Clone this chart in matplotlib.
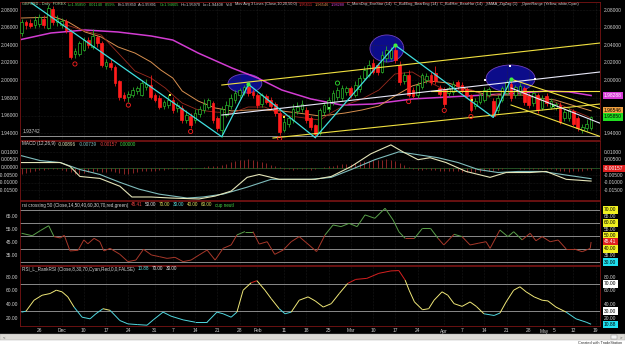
import matplotlib.pyplot as plt
from matplotlib.patches import Ellipse, Rectangle
from matplotlib.collections import LineCollection
from matplotlib.transforms import blended_transform_factory

W, H = 625, 345

# ---- x axis: one slot per trading day ----
date_pos = [4, 9, 14, 19, 24, 30, 34, 39, 44, 49, 53, 59, 64, 69, 74, 79, 84, 89,
            95, 99, 104, 109, 114, 117.4, 119.7, 124, 129]
date_lbl = ['26', 'Dec', '10', '17', '24', '31', '7', '14', '21', '28', 'Feb', '11', '18', '25',
            'Mar', '10', '17', '24', 'Apr', '7', '14', '21', '28', 'May', '5', '12', '19']

# ---- GBPUSD daily candles ----
opens = [2.054, 2.066, 2.065, 2.063, 2.064, 2.070, 2.060, 2.081, 2.066, 2.063,
         2.067, 2.055, 2.030, 2.030, 2.035, 2.046, 2.038, 2.049, 2.042, 2.016,
         2.020, 2.015, 1.999, 1.984, 1.981, 1.984, 1.988, 1.984, 1.992, 1.995,
         1.983, 1.980, 1.971, 1.972, 1.978, 1.969, 1.969, 1.955, 1.960, 1.955,
         1.962, 1.966, 1.970, 1.974, 1.957, 1.944, 1.961, 1.971, 1.978, 1.983,
         1.987, 1.993, 1.987, 1.984, 1.973, 1.982, 1.978, 1.973, 1.963, 1.944,
         1.950, 1.955, 1.965, 1.967, 1.966, 1.957, 1.949, 1.940, 1.964, 1.967,
         1.975, 1.981, 1.980, 1.987, 1.991, 1.984, 1.990, 2.003, 2.006, 2.020,
         2.017, 2.010, 2.025, 2.026, 2.035, 2.018, 1.999, 2.006, 1.989, 1.983,
         1.993, 2.000, 2.006, 2.008, 1.991, 1.990, 1.986, 1.987, 1.998, 1.995,
         1.990, 1.983, 1.971, 1.976, 1.978, 1.984, 1.977, 1.966, 1.978, 1.986,
         1.996, 1.983, 1.987, 1.991, 1.982, 1.974, 1.983, 1.969, 1.982, 1.970,
         1.969, 1.972, 1.957, 1.957, 1.965, 1.957, 1.944, 1.946, 1.94605]
highs = [2.070, 2.069, 2.070, 2.073, 2.076, 2.074, 2.086, 2.085, 2.074, 2.071,
         2.070, 2.058, 2.037, 2.045, 2.049, 2.049, 2.058, 2.052, 2.045, 2.024,
         2.024, 2.018, 2.001, 1.987, 1.988, 1.992, 1.994, 2.000, 2.002, 2.006,
         1.986, 1.983, 1.978, 1.984, 1.981, 1.975, 1.972, 1.966, 1.963, 1.968,
         1.971, 1.979, 1.980, 1.977, 1.960, 1.971, 1.977, 1.985, 1.989, 1.991,
         1.995, 1.9955, 1.990, 1.986, 1.986, 1.985, 1.981, 1.975, 1.965, 1.957,
         1.961, 1.973, 1.975, 1.978, 1.970, 1.960, 1.951, 1.969, 1.976, 1.981,
         1.989, 1.992, 1.995, 1.994, 1.994, 1.999, 2.006, 2.016, 2.023, 2.024,
         2.020, 2.033, 2.039, 2.038, 2.040, 2.022, 2.010, 2.012, 1.992, 1.998,
         2.009, 2.008, 2.010, 2.016, 1.995, 1.993, 1.994, 1.999, 2.001, 1.998,
         1.992, 1.985, 1.980, 1.986, 1.992, 1.993, 1.980, 1.983, 1.994, 2.000,
         2.0015, 1.995, 1.997, 1.994, 1.986, 1.989, 1.986, 1.983, 1.986, 1.980,
         1.976, 1.976, 1.967, 1.969, 1.968, 1.960, 1.950, 1.956, 1.95970]
lows = [2.050, 2.058, 2.059, 2.060, 2.061, 2.060, 2.058, 2.063, 2.062, 2.060,
        2.054, 2.024, 2.026, 2.028, 2.033, 2.037, 2.036, 2.038, 2.015, 2.013,
        2.012, 1.994, 1.978, 1.977, 1.976, 1.981, 1.985, 1.982, 1.989, 1.979,
        1.975, 1.968, 1.967, 1.969, 1.963, 1.964, 1.952, 1.952, 1.946, 1.952,
        1.959, 1.963, 1.967, 1.952, 1.942, 1.936, 1.958, 1.968, 1.974, 1.980,
        1.984, 1.982, 1.980, 1.969, 1.970, 1.973, 1.968, 1.960, 1.938, 1.941,
        1.947, 1.952, 1.962, 1.964, 1.952, 1.944, 1.935, 1.938, 1.961, 1.964,
        1.972, 1.978, 1.977, 1.984, 1.980, 1.981, 1.987, 2.000, 2.004, 2.007,
        2.006, 2.008, 2.021, 2.023, 2.020, 1.995, 1.996, 1.981, 1.980, 1.980,
        1.990, 1.997, 1.995, 1.996, 1.982, 1.970, 1.982, 1.984, 1.990, 1.986,
        1.980, 1.964, 1.968, 1.973, 1.975, 1.981, 1.958, 1.963, 1.975, 1.983,
        1.977, 1.980, 1.984, 1.972, 1.969, 1.971, 1.963, 1.966, 1.971, 1.967,
        1.966, 1.950, 1.954, 1.954, 1.948, 1.943, 1.940, 1.943, 1.94408]
closes = [2.066, 2.063, 2.062, 2.069, 2.072, 2.063, 2.082, 2.066, 2.070, 2.068,
          2.057, 2.027, 2.033, 2.042, 2.046, 2.040, 2.050, 2.042, 2.018, 2.021,
          2.015, 1.997, 1.981, 1.980, 1.985, 1.989, 1.991, 1.997, 1.996, 1.981,
          1.978, 1.970, 1.975, 1.978, 1.966, 1.972, 1.955, 1.961, 1.949, 1.963,
          1.968, 1.973, 1.978, 1.955, 1.946, 1.967, 1.972, 1.980, 1.986, 1.989,
          1.993, 1.986, 1.983, 1.972, 1.983, 1.976, 1.971, 1.963, 1.941, 1.953,
          1.957, 1.968, 1.970, 1.973, 1.955, 1.947, 1.939, 1.966, 1.972, 1.978,
          1.986, 1.989, 1.991, 1.991, 1.983, 1.995, 2.003, 2.012, 2.018, 2.010,
          2.010, 2.029, 2.035, 2.035, 2.023, 1.998, 2.006, 1.984, 1.982, 1.995,
          2.006, 2.005, 1.998, 1.999, 1.985, 1.973, 1.991, 1.996, 1.994, 1.989,
          1.983, 1.966, 1.977, 1.983, 1.989, 1.990, 1.960, 1.980, 1.991, 1.998,
          1.980, 1.992, 1.994, 1.975, 1.972, 1.986, 1.966, 1.980, 1.974, 1.977,
          1.973, 1.953, 1.964, 1.966, 1.951, 1.946, 1.947, 1.951, 1.95850]

# moving averages (10 / 20 / 50), read at sample bars
ma10_x = [9.5, 14.3, 17.9, 21.7, 25.5, 29.1, 32.3, 34, 36.1, 39.7, 43.5, 47.3, 50.9, 54.7,
          58.5, 62.1, 67.1, 69.1, 72.7, 76.5, 80.3, 83.9, 87.8, 91.6, 95.2, 101.2, 104.8,
          108.7, 112.5, 116.1, 119.9, 123.7, 127.3, 128]
ma10_y = [2.0640, 2.0561, 2.0516, 2.0312, 2.0107, 2.0027, 1.9914, 1.9834, 1.9743, 1.9664,
          1.9641, 1.9630, 1.9698, 1.9698, 1.9607, 1.9584, 1.9550, 1.9618, 1.9721, 1.9789,
          1.9891, 2.0073, 2.0096, 1.9982, 1.9891, 1.9891, 1.9812, 1.9869, 1.9857, 1.9778,
          1.9755, 1.9664, 1.9590, 1.95611]
ma20_x = [0, 7.5, 10.5, 14.3, 17.9, 21.7, 25.5, 29.1, 31.3, 34, 36.1, 39.7, 43.5, 47.3,
          50.9, 54.7, 58.5, 62.1, 67.1, 69.1, 72.7, 76.5, 80.3, 83.9, 87.8, 91.6, 96, 100,
          104.8, 108.7, 112.5, 116.1, 119.9, 123.7, 128]
ma20_y = [2.0709, 2.0720, 2.0664, 2.0550, 2.0493, 2.0380, 2.0311, 2.0209, 2.0118, 2.0027,
          1.9880, 1.9766, 1.9687, 1.9653, 1.9664, 1.9664, 1.9653, 1.9630, 1.9596, 1.9607,
          1.9630, 1.9664, 1.9709, 1.9823, 1.9937, 1.9994, 1.9970, 1.9900, 1.9834, 1.9834,
          1.9834, 1.9800, 1.9778, 1.9720, 1.96546]
ma50_x = [0, 6.6, 14.3, 21.7, 29.1, 34, 39.7, 47.3, 53.1, 58.5, 65, 72, 79, 88, 96, 104,
          112, 118, 123, 128]
ma50_y = [2.0466, 2.0539, 2.0573, 2.0550, 2.0505, 2.0459, 2.0311, 2.0141, 2.0027, 1.9891,
          1.9790, 1.9720, 1.9732, 1.9790, 1.9812, 1.9834, 1.9857, 1.9880, 1.9870, 1.98288]

# zigzag swing points
zz_x = [2.2, 45, 51, 66, 84, 106, 110]
zz_y = [2.088, 1.936, 1.9955, 1.935, 2.040, 1.958, 2.0015]

# trend channel lines (start bar, start price, end bar, end price)
chan_yellow = [(45, 1.9948, 130, 2.0425), (56.5, 1.9346, 130, 1.9732), (92, 1.9885, 130, 1.9885),
               (110, 2.0015, 131, 1.9664), (110, 1.9721, 131, 1.9346)]
chan_white = [(45, 1.9607, 130, 2.0096), (110, 1.9914, 131, 1.9494)]

# highlighted swing areas (bar, price, width in bars, height in price)
ellipses = [(50.2, 1.9965, 7.6, 0.0216), (82.1, 2.0363, 7.6, 0.0307), (109.9, 2.0022, 11, 0.0307)]

# pattern markers
bull_x = [12, 24, 38, 58, 87, 95, 101]
bull_y = [2.0187, 1.972, 1.942, 1.934, 1.976, 1.966, 1.959]
bear_x = [71]
bear_y = [1.997]
dot_x = [33.4, 59, 101.3]
dot_y = [1.9835, 1.959, 1.978]
sq_x = [69, 119.4]
sq_y = [1.969, 1.971]
handle_x = [104.2, 109.8, 115.4]
handle_y = [2.0005, 2.0164, 2.0016]
last_low_ref = 1.93742

# MACD (12,26,9), read at sample bars
macd_x = [0, 4.2, 8.7, 10.9, 13.1, 17.6, 22.1, 24.8, 29.1, 33.6, 39.9, 43.5, 47.1, 50.7,
          53.4, 57.9, 62.4, 66, 69.6, 74.1, 78.5, 83, 85.7, 89.1, 91.8, 95.4, 99.9, 105.3,
          108.9, 114.3, 117.9, 122.4, 128]
macd_y = [0.0033, 0.0033, 0.0033, 0.0007, -0.0059, -0.0072, -0.0124, -0.0195, -0.0195,
          -0.0202, -0.0208, -0.0189, -0.0156, -0.0065, -0.0046, -0.0078, -0.0078, -0.0078,
          -0.0059, 0.0007, 0.0091, 0.0150, 0.0104, 0.0052, 0.0065, 0.0033, -0.0026, -0.0065,
          -0.0033, -0.0033, -0.0026, -0.0078, -0.00896]
sig_x = [0, 4.2, 8.7, 13.1, 17.6, 22.1, 26.4, 30.9, 37.2, 40.8, 45.3, 50.7, 56.1, 60.6,
         65.1, 69.6, 74.1, 79.4, 84.8, 89.1, 93.6, 98.1, 102.6, 107.1, 111.6, 117, 121.5, 128]
sig_y = [0.0078, 0.0046, 0.0033, -0.0013, -0.0046, -0.0098, -0.0143, -0.0176, -0.0202,
         -0.0195, -0.0176, -0.0130, -0.0078, -0.0078, -0.0078, -0.0065, -0.0013, 0.0052,
         0.0104, 0.0085, 0.0065, 0.0033, -0.0013, -0.0033, -0.0026, -0.0026, -0.0046, -0.00739]
macd_hist = [-0.0040, -0.0035, -0.0030, -0.0025, -0.0018, -0.0015, -0.0008, -0.0010, -0.0012, -0.0015,
             -0.0020, -0.0030, -0.0040, -0.0042, -0.0035, -0.0030, -0.0028, -0.0025, -0.0030, -0.0028,
             -0.0025, -0.0030, -0.0038, -0.0042, -0.0040, -0.0035, -0.0030, -0.0025, -0.0022, -0.0020,
             -0.0020, -0.0018, -0.0015, -0.0012, -0.0012, -0.0010, -0.0012, -0.0010, -0.0008, -0.0006,
             -0.0004, 0.0002, 0.0008, 0.0010, 0.0008, 0.0015, 0.0025, 0.0035, 0.0042, 0.0048,
             0.0052, 0.0055, 0.0050, 0.0045, 0.0038, 0.0030, 0.0020, 0.0010, 0.0002, -0.0008,
             -0.0012, -0.0015, -0.0012, -0.0010, -0.0012, -0.0015, -0.0012, -0.0005, 0.0002, 0.0008,
             0.0012, 0.0018, 0.0022, 0.0025, 0.0025, 0.0030, 0.0035, 0.0040, 0.0045, 0.0048,
             0.0050, 0.0052, 0.0055, 0.0052, 0.0045, 0.0030, 0.0015, 0.0002, -0.0010, -0.0018,
             -0.0015, -0.0012, -0.0015, -0.0018, -0.0022, -0.0025, -0.0022, -0.0020, -0.0022, -0.0028,
             -0.0030, -0.0032, -0.0030, -0.0028, -0.0025, -0.0022, -0.0025, -0.0018, -0.0012, -0.0005,
             -0.0002, -0.0004, -0.0008, -0.0010, -0.0012, -0.0010, -0.0012, -0.0010, -0.0008, -0.0010,
             -0.0015, -0.0020, -0.0025, -0.0028, -0.0025, -0.0022, -0.0020, -0.0018, -0.00157]

# rsi crossing 50
rsi_x = [0, 2.4, 4.2, 6.1, 7.3, 8.7, 9.6, 10.9, 12.7, 14, 14.9, 16.3, 17.6, 18.5, 19.9, 22.1,
         23.9, 25.7, 27.4, 29.2, 31, 32.7, 34.5, 36.3, 38.1, 39.9, 41.7, 43.5, 45.3, 47.1,
         48.4, 50.2, 52, 53.4, 55.2, 56.9, 58.8, 60.6, 62.4, 64.6, 66.3, 68.2, 70, 71.8, 73.6,
         75.4, 77.2, 79.4, 81.7, 83.5, 84.8, 86.2, 88.3, 90.1, 91.9, 93.6, 94.9, 97.2, 99,
         100.8, 102.6, 104.4, 105.3, 107.5, 109.3, 110.6, 112.5, 114.3, 115.6, 117, 118.8,
         120.6, 122.4, 124.2, 126, 127.8, 128]
rsi_y = [52.1, 50.2, 54.1, 57.9, 49.5, 48.5, 50.5, 38.5, 39.0, 47.0, 44.0, 48.2, 45.6, 38.5,
         40.5, 35.9, 30.3, 31.5, 39.8, 35.4, 34.1, 32.8, 33.6, 30.3, 31.5, 35.4, 39.2, 31.5,
         40.5, 43.1, 50.8, 53.4, 53.4, 43.8, 45.6, 35.9, 39.2, 45.6, 49.5, 43.1, 38.0, 50.8,
         58.5, 57.2, 59.7, 57.2, 66.2, 63.6, 71.3, 62.3, 53.3, 48.2, 48.2, 55.9, 55.9, 48.2,
         43.1, 51.3, 49.5, 43.1, 44.4, 45.6, 40.5, 54.6, 49.5, 53.3, 47.0, 52.1, 46.3, 49.5,
         45.6, 46.9, 40.0, 40.0, 37.9, 40.5, 45.41]

# RSI_L_RankRSI
rank_x = [0, 1, 2.8, 4.6, 6.4, 7.8, 9.1, 10.4, 11.8, 13.6, 15.4, 16.7, 18.3, 19.9, 22.1,
          23.9, 26, 28.2, 29.6, 31.8, 33.6, 36.3, 39, 41.7, 43.9, 45.3, 47.1, 48.4, 49.8,
          51.6, 52.9, 54.7, 56.1, 57.9, 59.2, 60.6, 62.4, 64.4, 66, 67.8, 69.6, 71.4, 73.3,
          75.1, 77.6, 80.3, 83, 84.8, 86.2, 87.1, 88.3, 90.1, 91.5, 92.7, 94.5, 95.8, 97.2,
          99, 100.8, 102.2, 103.9, 106.2, 107.5, 108.9, 110.6, 112, 113.4, 115.2, 117,
          118.3, 120.1, 122.4, 124.6, 126.9, 128]
rank_y = [28.6, 30.0, 46.0, 53.3, 55.8, 60.7, 58.3, 50.9, 36.0, 21.2, 18.8, 26.2, 33.6, 31.2,
          16.3, 11.4, 10.4, 9.5, 17.3, 28.6, 22.7, 17.3, 13.9, 13.9, 28.6, 26.2, 21.2, 28.6,
          60.7, 71.6, 74.6, 60.7, 48.4, 33.6, 26.2, 28.6, 46.0, 50.9, 45.0, 36.0, 41.0, 55.8,
          70.6, 76.5, 78.0, 85.4, 88.9, 89.4, 75.5, 60.7, 43.5, 32.1, 33.6, 46.0, 58.3, 53.3,
          41.0, 37.0, 43.5, 37.0, 26.2, 23.7, 27.2, 43.5, 60.7, 65.7, 58.3, 50.9, 46.0, 45.0,
          36.0, 28.6, 18.8, 13.9, 10.88]

# ---------------- drawing ----------------
plt.rcParams['font.family'] = ['Liberation Sans', 'DejaVu Sans']
BG = '#000000'
TXT = '#cfcfcf'
GRID = '#2c2c2c'
BORDER = '#7a1414'
FS = 3.5

fig = plt.figure(figsize=(W / 100, H / 100), dpi=100, facecolor=BG)


def px_axes(top, bottom):
    return fig.add_axes([20 / W, 1 - bottom / H, 580 / W, (bottom - top) / H], facecolor=BG)


ax_p = px_axes(2, 139.5)
ax_m = px_axes(140.5, 200)
ax_r = px_axes(201, 265)
ax_k = px_axes(266, 326)
axes = [ax_p, ax_m, ax_r, ax_k]

for ax in axes:
    ax.set_xlim(-0.35, 130)
    for s in ax.spines.values():
        s.set_color(BORDER)
        s.set_linewidth(0.6)
    ax.tick_params(length=0, labelsize=FS, colors=TXT, pad=1)
    ax.set_yticks([])
    ax.set_xticks(date_pos)
    ax.set_xticklabels([])
    ax.grid(axis='x', color=GRID, lw=0.4, ls=':')

ax_k.set_xticklabels(date_lbl)
ax_k.tick_params(axis='x', pad=1.8)


def side_labels(ax, left_vals, right_vals, fmt, badges=()):
    tr = blended_transform_factory(ax.transAxes, ax.transData)
    for v in left_vals:
        ax.text(-0.003, v, fmt.format(v), transform=tr, ha='right', va='center', fontsize=FS, color=TXT)
    for v in right_vals:
        ax.text(1.007, v, fmt.format(v), transform=tr, ha='left', va='center', fontsize=FS, color=TXT)
    for v, txt, bg, fg in badges:
        ax.text(1.007, v, txt, transform=tr, ha='left', va='center', fontsize=FS, color=fg,
                bbox=dict(boxstyle='square,pad=0.25', fc=bg, ec='none'))


# ---- price panel ----
ax_p.set_ylim(1.9329, 2.0891)
price_lvls = [2.08, 2.06, 2.04, 2.02, 2.00, 1.98, 1.96, 1.94]
for v in price_lvls:
    ax_p.axhline(v, color=GRID, lw=0.4, ls=':')

for (cx, cy, w, h) in ellipses:
    ax_p.add_patch(Ellipse((cx, cy), w, h, facecolor='#0c0c8a', edgecolor='#7040c0', lw=0.6, zorder=1))

ax_p.axhline(last_low_ref, color='#a8a8a8', lw=0.6, zorder=2)
tr_p = blended_transform_factory(ax_p.transAxes, ax_p.transData)
ax_p.text(0.004, last_low_ref + 0.0012, '1.93742', transform=tr_p, fontsize=FS, color=TXT,
          va='bottom', ha='left')

ax_p.plot(ma50_x, ma50_y, color='#d23cd2', lw=1.1, zorder=2)
ax_p.plot(ma20_x, ma20_y, color='#d89050', lw=0.7, zorder=2)
ax_p.plot(ma10_x, ma10_y, color='#9a2a1e', lw=0.6, zorder=2)

for i, (o, h, l, c) in enumerate(zip(opens, highs, lows, closes)):
    up = c >= o
    col = '#2cb82c' if up else '#ff1c1c'
    ax_p.vlines(i, l, h, color=col, lw=0.55, zorder=3)
    ax_p.add_patch(Rectangle((i - 0.3, min(o, c)), 0.6, max(abs(c - o), 0.0005),
                             facecolor=BG if up else col, edgecolor=col, lw=0.5, zorder=4))

for (x0, y0, x1, y1) in chan_yellow:
    ax_p.plot([x0, x1], [y0, y1], color='#f0e040', lw=0.8, zorder=5)
for (x0, y0, x1, y1) in chan_white:
    ax_p.plot([x0, x1], [y0, y1], color='#e8e8f8', lw=0.8, zorder=5)

ax_p.plot(zz_x, zz_y, color='#40e0e0', lw=0.9, zorder=6)
ax_p.scatter(zz_x[2::2], zz_y[2::2], s=9, color='#40f040', zorder=7, linewidths=0)
ax_p.scatter(bull_x, bull_y, s=9, facecolors='none', edgecolors='#ff2020', linewidths=0.6, zorder=7)
ax_p.scatter(bear_x, bear_y, s=9, facecolors='none', edgecolors='#30e030', linewidths=0.6, zorder=7)
ax_p.scatter(dot_x, dot_y, s=2.5, marker='s', color='#f0f040', zorder=7, linewidths=0)
ax_p.scatter(sq_x, sq_y, s=3, marker='s', color='#60f060', zorder=7, linewidths=0)
ax_p.scatter(handle_x, handle_y, s=3, marker='s', color='#ffffff', zorder=7, linewidths=0)

side_labels(ax_p, price_lvls, [2.08, 2.06, 2.04, 2.02, 2.00, 1.94], '{:.5f}',
            badges=[(1.98288, '1.98288', '#d83cd8', '#ffffff'),
                    (1.96546, '1.96546', '#f0a040', '#000000'),
                    (1.95850, '1.95850', '#20e020', '#000000')])

# ---- MACD panel ----
ax_m.set_ylim(-0.0215, 0.0179)
macd_lvls = [0.01, 0.005, 0.0, -0.005, -0.01, -0.015]
for v in macd_lvls:
    ax_m.axhline(v, color=GRID, lw=0.4, ls=':')
ax_m.axhline(0, color='#2e6b2e', lw=0.5)
ax_m.vlines(range(len(macd_hist)), 0, macd_hist, color='#a02a2a', lw=0.6)
ax_m.plot(sig_x, sig_y, color='#7fbcbc', lw=0.8)
ax_m.plot(macd_x, macd_y, color='#e4e4b8', lw=0.8)
side_labels(ax_m, macd_lvls, [0.01, 0.005, -0.005, -0.01, -0.015], '{:.5f}',
            badges=[(-0.0008, '-0.00157', '#e02020', '#ffffff')])

# ---- rsi crossing 50 panel ----
ax_r.set_ylim(27.7, 76.9)
for v in [70, 60, 50, 40, 30]:
    ax_r.axhline(v, color='#a0a0a0', lw=0.6)


def colored_line(ax, xs, ys, color_of):
    segs, cols = [], []
    for k in range(len(xs) - 1):
        segs.append([(xs[k], ys[k]), (xs[k + 1], ys[k + 1])])
        cols.append(color_of((ys[k] + ys[k + 1]) / 2))
    ax.add_collection(LineCollection(segs, colors=cols, linewidths=0.7, zorder=3))


colored_line(ax_r, rsi_x, rsi_y, lambda v: '#5aa04a' if v >= 50 else '#a8382a')
side_labels(ax_r, [65, 55, 45, 35], [65, 55, 35], '{:.2f}',
            badges=[(70, '70.00', '#f0f020', '#000000'), (60, '60.00', '#f0f020', '#000000'),
                    (50, '50.00', '#f0f020', '#000000'), (45.41, '45.41', '#e02020', '#ffffff'),
                    (40, '40.00', '#f0f020', '#000000'), (30, '30.00', '#20e0f0', '#000000')])

# ---- RankRSI panel ----
ax_k.set_ylim(8.3, 96.1)
for v in [70, 30]:
    ax_k.axhline(v, color='#a0a0a0', lw=0.6)
colored_line(ax_k, rank_x, rank_y,
             lambda v: '#d82020' if v > 70 else ('#50d8e0' if v < 30 else '#f0e878'))
side_labels(ax_k, [80, 60, 40, 20], [80, 60, 40, 20], '{:.2f}',
            badges=[(70, '70.00', '#ffffff', '#000000'), (30, '30.00', '#ffffff', '#000000'),
                    (10.88, '10.88', '#20e0f0', '#000000')])

# ---- panel titles ----
renderer = fig.canvas.get_renderer()


def seg_text(x_px, y_px, parts, size=3.3, gap=2.6):
    x = x_px
    for s, col in parts:
        t = fig.text(x / W, 1 - y_px / H, s, color=col, fontsize=size, ha='left', va='center')
        x += t.get_window_extent(renderer).width + gap


WH = '#d4d4d4'
GR = '#44d044'
seg_text(22, 4.5, [('GBPUSD - Daily  FOREX', '#a0d8a0'), ('L=1.95850', GR), ('0.01140', GR),
                   ('0.59%', GR), ('B=1.95850', WH), ('A=1.95891', WH), ('O=1.94605', GR),
                   ('Hi=1.95970', WH), ('Lo=1.94408', WH), ('V=0', WH),
                   ('Mov Avg 3 Lines (Close,10,20,50,0)', WH), ('1.95611', '#e03030'),
                   ('1.96546', '#e09050'), ('1.98288', '#d040d0'), ('C_MornDoji_EveStar (14)', WH),
                   ('C_BullEng_BearEng (14)', WH), ('C_BullHar_BearHar (14)', WH),
                   ('_SMAA_ZigZag (1)', WH), ('_OpenRange (Yellow, white,Cyan)', WH)],
         size=2.8, gap=2.0)
seg_text(22, 144, [('MACD (12,26,9)', WH), ('-0.00896', '#e4e4b8'), ('-0.00739', '#7fbcbc'),
                   ('-0.00157', '#e04040'), ('0.00000', GR)])
seg_text(22, 205, [('rsi crossing 50 (Close,14,50,40,60,30,70,red,green)', WH), ('45.41', '#e04040'),
                   ('50.00', '#e0e0e0'), ('70.00', '#e0e060'), ('30.00', '#60e0e0'),
                   ('40.00', '#e0e060'), ('60.00', '#e0e060'), ('cup neutl', GR)])
seg_text(22, 269, [('RSI_L_RankRSI (Close,8,30,70,Cyan,Red,0,0,FALSE)', WH), ('10.88', '#60e0e0'),
                   ('70.00', '#e0e0e0'), ('30.00', '#e0e0e0')])

# ---- scrollbar strip and footer ----
fig.add_artist(Rectangle((0, 0), 1, (H - 340) / H, transform=fig.transFigure, fc='#ffffff', ec='none'))
fig.add_artist(Rectangle((0, (H - 340) / H), 1, 6.5 / H, transform=fig.transFigure,
                         fc='#dcdad5', ec='#a8a8a8', lw=0.3))
fig.add_artist(Rectangle((611 / W, (H - 339) / H), 6 / W, 4.5 / H, transform=fig.transFigure,
                         fc='#f4f4f4', ec='#808080', lw=0.3))
fig.text(3 / W, 1 - 337 / H, '<', fontsize=3, color='#404040', va='center')
fig.text(620 / W, 1 - 337 / H, '>', fontsize=3, color='#404040', va='center')
fig.text(622 / W, 1 - 342.6 / H, 'Created with TradeStation', fontsize=2.8, color='#303030',
         ha='right', va='center')

fig.savefig('out.png', dpi=100, facecolor=BG)
